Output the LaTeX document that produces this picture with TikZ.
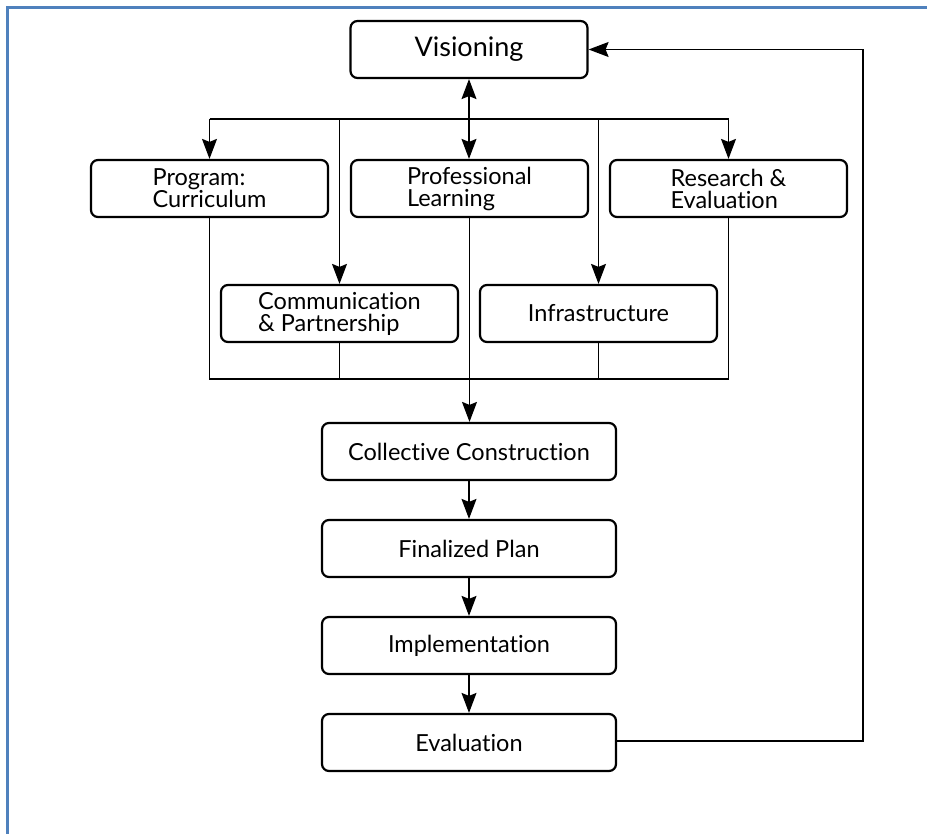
\documentclass[tikz,border=0pt]{standalone}
\usepackage{fontspec}
\setmainfont{Lato}[Ligatures=NoCommon]
\usetikzlibrary{arrows.meta}
\definecolor{frameblue}{HTML}{4F81BD}
\tikzset{
  box/.style={draw=black, line width=2.2pt, rounded corners=7pt, fill=white,
    minimum height=57pt, inner sep=0pt, align=left, font=\fontsize{23.5}{22}\selectfont},
  wbox/.style={box, minimum width=237pt},
  cbox/.style={box, minimum width=294pt},
  conn/.style={draw=black, line width=1.3pt},
  arr/.style={conn, -{Stealth[length=20pt,width=15pt,inset=3pt]}},
  darr/.style={conn, {Stealth[length=20pt,width=15pt,inset=3pt]}-{Stealth[length=20pt,width=15pt,inset=3pt]}},
}
\begin{document}
\begin{tikzpicture}[x=1pt,y=-1pt]
\useasboundingbox (0,0) rectangle (927,834);
\draw[frameblue, line width=2.5pt] (7.5,834) -- (7.5,7.5) -- (927,7.5);

\node[wbox, font=\fontsize{27}{28}\selectfont] (vis) at (469,49.5) {Visioning};
\node[wbox] (prog) at (209.5,188.5) {Program:\\Curriculum};
\node[wbox] (prof) at (469.5,188.5) {Professional\\Learning};
\node[wbox] (res) at (728.5,188.5) {Research \&\\Evaluation};
\node[wbox] (comm) at (339.5,313.5) {Communication\\\& Partnership};
\node[wbox] (infra) at (598.5,313.5) {Infrastructure};
\node[cbox] (coll) at (469,451.5) {Collective Construction};
\node[cbox] (fin) at (469,548.5) {Finalized Plan};
\node[cbox] (impl) at (469,645.5) {Implementation};
\node[cbox] (eval) at (469,742.5) {Evaluation};

% top bus
\coordinate (tl) at (209.5,119);
\coordinate (tr) at (728.5,119);
\draw[conn] (tl) -- (tr);
\draw[arr] (tl) -- (prog.north);
\draw[arr] (tr) -- (res.north);
\draw[arr] (comm.north |- tl) -- (comm.north);
\draw[arr] (infra.north |- tl) -- (infra.north);
\draw[darr] (vis.south) -- (vis.south |- prof.north);

% bottom bus
\coordinate (bl) at (209.5,379);
\coordinate (br) at (728.5,379);
\draw[conn] (prog.south) -- (bl) -- (br) -- (res.south);
\draw[conn] (comm.south) -- (comm.south |- bl);
\draw[conn] (infra.south) -- (infra.south |- bl);
\draw[arr] (prof.south) -- (prof.south |- coll.north);

% chain
\draw[arr] (coll) -- (fin);
\draw[arr] (fin) -- (impl);
\draw[arr] (impl) -- (eval);

% feedback
\coordinate (fb) at (863,741);
\draw[arr] (eval.east |- fb) -- (fb) |- (vis.east);
\end{tikzpicture}
\end{document}
